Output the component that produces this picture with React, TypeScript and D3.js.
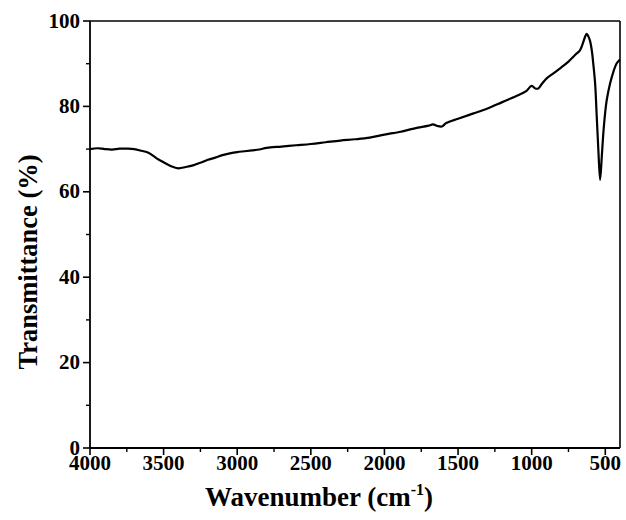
import React from "react";
import * as d3 from "d3";

const wavenumbers = [
  4000, 3950, 3900, 3850, 3800, 3750, 3700, 3650, 3600, 3550, 3500, 3450, 3400, 3350, 3300, 3250, 3200, 3150,
  3100, 3050, 3000, 2950, 2900, 2850, 2800, 2700, 2600, 2500, 2400, 2300, 2200, 2100, 2000, 1900, 1800, 1700,
  1670, 1640, 1610, 1580, 1500, 1400, 1300, 1200, 1100, 1040, 1000, 975, 955, 930, 900, 850, 800, 750, 700,
  671, 649, 635, 626, 615, 604, 592, 580, 569, 558, 547, 535, 524, 513, 500, 490, 467, 445, 422, 400,
];
const transmittance = [
  70.0, 70.2, 70.0, 69.9, 70.1, 70.1, 70.0, 69.6, 69.1, 67.9, 66.9, 66.0, 65.5, 65.8, 66.2, 66.8, 67.5, 68.0,
  68.6, 69.0, 69.3, 69.5, 69.7, 69.9, 70.3, 70.6, 70.9, 71.2, 71.6, 72.0, 72.3, 72.7, 73.4, 74.0, 74.8, 75.5,
  75.8, 75.4, 75.3, 76.1, 77.1, 78.3, 79.5, 81.0, 82.5, 83.5, 84.8, 84.2, 84.2, 85.3, 86.5, 87.8, 89.1, 90.5, 92.2,
  93.2, 95.1, 96.5, 97.0, 96.4, 95.4, 93.2, 89.5, 85.4, 77.6, 69.8, 62.8, 68.1, 73.8, 78.8, 81.5, 85.4, 88.1, 90.1, 91.0,
];
const xTicks = [4000, 3500, 3000, 2500, 2000, 1500, 1000, 500];
const xMinorTicks = [3750, 3250, 2750, 2250, 1750, 1250, 750];
const yTicks = [0, 20, 40, 60, 80, 100];
const yMinorTicks = [10, 30, 50, 70, 90];
const xDomain = [4000, 400];
const yDomain = [0, 100];

const W = 626;
const H = 520;
const M = { left: 90, right: 620, top: 21, bottom: 448 };
const FONT = "'Liberation Serif', 'Times New Roman', serif";

export default function App() {
  const x = d3.scaleLinear().domain(xDomain).range([M.left, M.right]);
  const y = d3.scaleLinear().domain(yDomain).range([M.bottom, M.top]);
  const pts = wavenumbers.map((w, i) => [w, transmittance[i]] as [number, number]);
  const line = d3
    .line<[number, number]>()
    .x((d) => x(d[0]))
    .y((d) => y(d[1]))
    .curve(d3.curveCatmullRom.alpha(0.5));

  return (
    <svg
      width={W}
      height={H}
      style={{ position: "absolute", left: 0, top: 0, background: "#fff" }}
      fontFamily={FONT}
      fontWeight="bold"
    >
      <rect x={0} y={0} width={W} height={H} fill="#fff" />
      {/* frame */}
      <line x1={M.left} x2={M.right} y1={M.top} y2={M.top} stroke="#000" strokeWidth={1.6} />
      <line x1={M.right} x2={M.right} y1={M.top} y2={M.bottom} stroke="#000" strokeWidth={1.6} />
      <line x1={M.left} x2={M.right} y1={M.bottom} y2={M.bottom} stroke="#000" strokeWidth={1.8} />
      <line x1={M.left} x2={M.left} y1={M.top} y2={M.bottom} stroke="#000" strokeWidth={1.8} />
      {/* x ticks */}
      {xTicks.map((t) => (
        <g key={"xt" + t}>
          <line x1={x(t)} x2={x(t)} y1={M.bottom} y2={M.bottom + 7} stroke="#000" strokeWidth={1.6} />
          <text x={x(t)} y={M.bottom + 22} textAnchor="middle" fontSize={21}>
            {t}
          </text>
        </g>
      ))}
      {xMinorTicks.map((t) => (
        <line key={"xm" + t} x1={x(t)} x2={x(t)} y1={M.bottom} y2={M.bottom + 4} stroke="#000" strokeWidth={1.4} />
      ))}
      {/* y ticks */}
      {yTicks.map((t) => (
        <g key={"yt" + t}>
          <line x1={M.left - 7} x2={M.left} y1={y(t)} y2={y(t)} stroke="#000" strokeWidth={1.6} />
          <text x={M.left - 10} y={y(t) + 6.5} textAnchor="end" fontSize={21}>
            {t}
          </text>
        </g>
      ))}
      {yMinorTicks.map((t) => (
        <line key={"ym" + t} x1={M.left - 4} x2={M.left} y1={y(t)} y2={y(t)} stroke="#000" strokeWidth={1.4} />
      ))}
      {/* curve */}
      <path d={line(pts) || ""} fill="none" stroke="#000" strokeWidth={2.2} strokeLinejoin="round" />
      {/* axis titles */}
      <text x={319} y={506} textAnchor="middle" fontSize={27}>
        Wavenumber (cm
        <tspan fontSize={16} dy={-11}>
          -1
        </tspan>
        <tspan dy={11}>)</tspan>
      </text>
      <text transform="translate(37,262) rotate(-90)" textAnchor="middle" fontSize={26.5}>
        Transmittance (%)
      </text>
    </svg>
  );
}
